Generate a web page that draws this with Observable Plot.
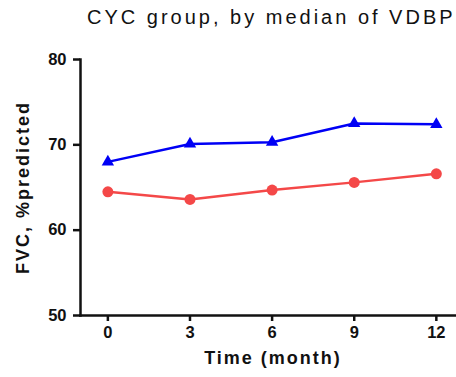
<!DOCTYPE html>
<html><head><meta charset="utf-8">
<script src="https://cdn.jsdelivr.net/npm/d3@7"></script>
<script src="https://cdn.jsdelivr.net/npm/@observablehq/plot@0.6"></script>
<style>
body{margin:0;background:#fff;width:456px;height:377px;overflow:hidden;font-family:"Liberation Sans",Arial,sans-serif;}
#title{height:40px;position:relative;}
#title span{position:absolute;left:87px;top:6px;font-size:20px;letter-spacing:3px;color:#111;white-space:nowrap;}
.xlab text{letter-spacing:2px;}
.ylab text{letter-spacing:2px;}
</style></head>
<body>
<div id="title"><span>CYC group, by median of VDBP</span></div>
<div id="chart"></div>
<script>
const months = [0, 3, 6, 9, 12];
const seriesBlue = [68.0, 70.1, 70.3, 72.5, 72.4];
const seriesRed = [64.5, 63.6, 64.7, 65.6, 66.6];
const yTicks = [50, 60, 70, 80];
const xTicks = [0, 3, 6, 9, 12];

const blue = months.map((m, i) => ({month: m, value: seriesBlue[i]}));
const red = months.map((m, i) => ({month: m, value: seriesRed[i]}));

const plot = Plot.plot({
  width: 456,
  height: 337,
  marginLeft: 80,
  marginRight: 1,
  marginTop: 19,
  marginBottom: 62,
  style: {fontFamily: "'Liberation Sans', Arial, sans-serif", color: "#111", background: "#fff"},
  x: {domain: [-1, 12.7]},
  y: {domain: [50, 80]},
  marks: [
    Plot.frame({anchor: "left", stroke: "#111", strokeWidth: 2.5}),
    Plot.frame({anchor: "bottom", stroke: "#111", strokeWidth: 2.5}),
    Plot.axisY({ticks: yTicks, tickSize: 7, tickPadding: 7, stroke: "#111", strokeWidth: 2.5,
      fontSize: 16.5, fontWeight: "bold", label: null}),
    Plot.axisX({ticks: xTicks, tickSize: 6, tickPadding: 5, stroke: "#111", strokeWidth: 2.5,
      fontSize: 16.5, fontWeight: "bold", label: null}),
    Plot.text(["Time (month)"], {className: "xlab", frameAnchor: "bottom", dx: 5, dy: 48, fontSize: 18, fontWeight: "bold", fill: "#111"}),
    Plot.text(["FVC, %predicted"], {className: "ylab", frameAnchor: "left", textAnchor: "middle", dx: -57, dy: 0, rotate: -90, fontSize: 18, fontWeight: "bold", fill: "#111"}),
    Plot.line(red, {x: "month", y: "value", stroke: "#f44848", strokeWidth: 2.5}),
    Plot.dot(red, {x: "month", y: "value", fill: "#f44848", r: 5.5, symbol: "circle"}),
    Plot.line(blue, {x: "month", y: "value", stroke: "#0000f5", strokeWidth: 2.5}),
    Plot.dot(blue, {x: "month", y: "value", fill: "#0000f5", r: 4.6, symbol: "triangle"})
  ]
});
document.getElementById("chart").appendChild(plot);
</script>
</body></html>
